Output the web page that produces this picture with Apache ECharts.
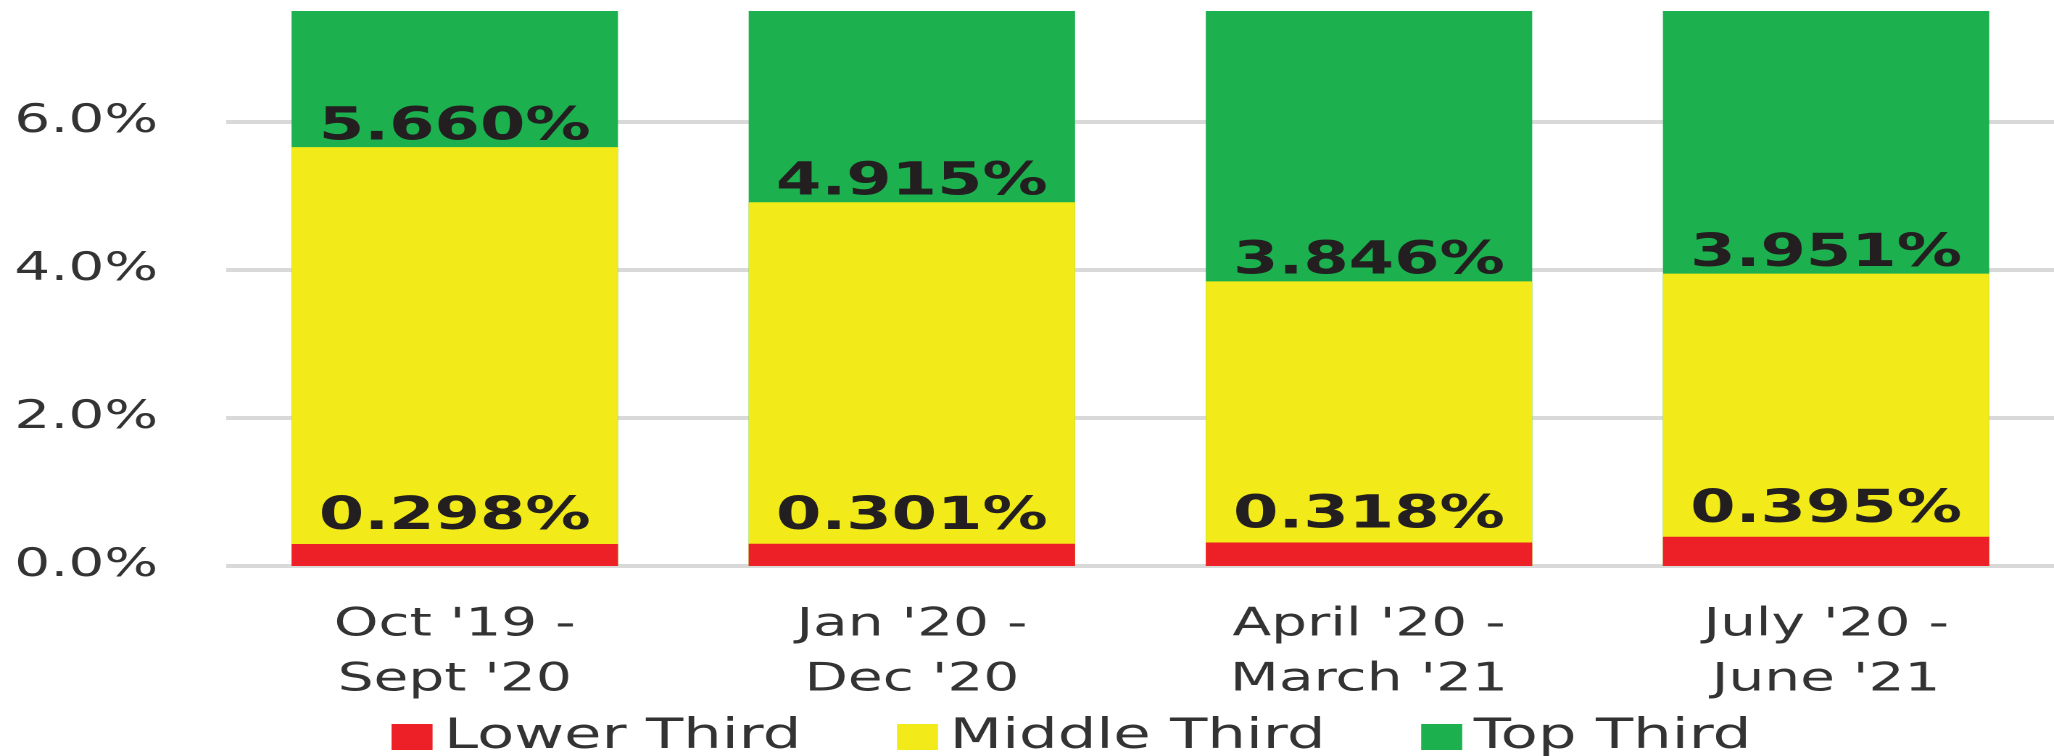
<!DOCTYPE html>
<html>
<head>
<meta charset="utf-8">
<script src="https://cdn.jsdelivr.net/npm/echarts@6/dist/echarts.min.js"></script>
<style>
  html, body { margin: 0; padding: 0; background: #fff; overflow: hidden; }
  #wrap { width: 2054px; height: 756px; overflow: hidden; }
  #chart { width: 1417px; height: 756px; transform: scaleX(1.45); transform-origin: 0 0; }
</style>
</head>
<body>
<div id="wrap"><div id="chart"></div></div>
<script>
const categories = ["Oct '19 -\nSept '20", "Jan '20 -\nDec '20", "April '20 -\nMarch '21", "July '20 -\nJune '21"];
const lowerThird = [0.298, 0.301, 0.318, 0.395];
const middleThird = [5.660, 4.915, 3.846, 3.951];
// top third bars run past the visible top of the axis (clipped at 7.5%)
const topThird = [7.5, 7.5, 7.5, 7.5];
const seriesNames = ['Lower Third', 'Middle Third', 'Top Third'];
const yTicks = [0, 2, 4, 6];

const chart = echarts.init(document.getElementById('chart'), null, { devicePixelRatio: 2 });
const fontFamily = 'DejaVu Sans';
const labelStyle = {
  show: true,
  position: 'top',
  fontFamily: fontFamily,
  fontSize: 45,
  fontWeight: 'bold',
  color: '#231f20',
  formatter: p => p.value.toFixed(3) + '%'
};
chart.setOption({
  animation: false,
  grid: { left: 156, width: 1264, top: 11, height: 555, containLabel: false },
  legend: {
    data: seriesNames,
    left: 265,
    top: 711,
    icon: 'rect',
    itemWidth: 28.3,
    itemHeight: 26,
    itemGap: 66,
    textStyle: { fontFamily: fontFamily, fontSize: 42, color: '#333', padding: [0, 0, 0, 3] }
  },
  xAxis: {
    type: 'category',
    data: categories,
    axisLine: { show: false },
    axisTick: { show: false },
    axisLabel: { fontFamily: fontFamily, fontSize: 39, color: '#333', lineHeight: 55, margin: 32 }
  },
  yAxis: {
    type: 'value',
    min: yTicks[0],
    max: 7.5,
    interval: 2,
    axisLine: { show: false },
    axisTick: { show: false },
    axisLabel: {
      fontFamily: fontFamily, fontSize: 39, color: '#333', margin: 47,
      showMaxLabel: false,
      formatter: v => (yTicks.indexOf(v) >= 0 ? v.toFixed(1) + '%' : '')
    },
    splitLine: { show: true, showMaxLine: false, lineStyle: { color: '#d9d9d9', width: 4 } }
  },
  series: [
    {
      name: seriesNames[0], type: 'bar', data: lowerThird, z: 4,
      barGap: '-100%', barCategoryGap: '28.6%',
      itemStyle: { color: '#ED1F27' },
      label: Object.assign({}, labelStyle, { distance: 4 })
    },
    {
      name: seriesNames[1], type: 'bar', data: middleThird, z: 3,
      barGap: '-100%', barCategoryGap: '28.6%',
      itemStyle: { color: '#F2EB19' },
      label: Object.assign({}, labelStyle, { distance: -3 })
    },
    {
      name: seriesNames[2], type: 'bar', data: topThird, z: 2,
      barGap: '-100%', barCategoryGap: '28.6%',
      itemStyle: { color: '#1DB04F' }
    }
  ]
});
</script>
</body>
</html>
